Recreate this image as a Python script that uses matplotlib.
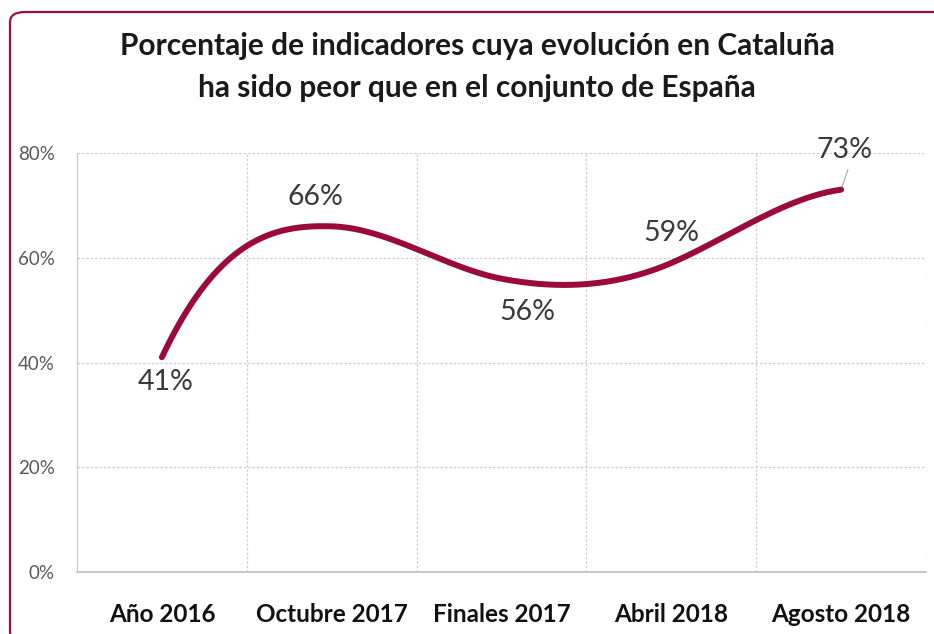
import numpy as np
import matplotlib
matplotlib.use('Agg')
import matplotlib.pyplot as plt
from matplotlib.patches import FancyBboxPatch

plt.rcParams['font.family'] = ['Lato', 'DejaVu Sans']

categories = ['Año 2016', 'Octubre 2017', 'Finales 2017', 'Abril 2018', 'Agosto 2018']
values = [41, 66, 56, 59, 73]
labels = ['41%', '66%', '56%', '59%', '73%']
title = 'Porcentaje de indicadores cuya evolución en Cataluña\nha sido peor que en el conjunto de España'
yticks = [0, 20, 40, 60, 80]

# slope of the smoothed line at each point (% per category)
slopes = [69, -1, -6.2, 14, 4.4]

line_color = '#9A0A3C'
border_color = '#A0103F'


def hermite(xs, ys, ms, n=80):
    px, py = [], []
    for i in range(len(xs) - 1):
        s = np.linspace(0, 1, n)
        if i > 0:
            s = s[1:]
        h = xs[i + 1] - xs[i]
        h00 = 2 * s**3 - 3 * s**2 + 1
        h10 = s**3 - 2 * s**2 + s
        h01 = -2 * s**3 + 3 * s**2
        h11 = s**3 - s**2
        px.append(xs[i] + s * h)
        py.append(h00 * ys[i] + h10 * h * ms[i] + h01 * ys[i + 1] + h11 * h * ms[i + 1])
    return np.concatenate(px), np.concatenate(py)


fig = plt.figure(figsize=(9.34, 6.34), dpi=100)
W, H = 934.0, 634.0

# rounded border, partly cut by the image edge
border = FancyBboxPatch((10 / W, -8 / H), 1.1, 1 - 4 / H,
                        boxstyle='round,pad=0,rounding_size=0.016',
                        transform=fig.transFigure, fill=False,
                        edgecolor=border_color, linewidth=1.6)
fig.patches.append(border)

ax = fig.add_axes([77 / W, (H - 572) / H, (926 - 77) / W, (572 - 153) / H])

x = np.arange(len(categories))
sx, sy = hermite(x, values, slopes)
ax.plot(sx, sy, color=line_color, linewidth=4.3, solid_capstyle='round', zorder=3)

ax.set_xlim(-0.5, len(categories) - 0.5)
ax.set_ylim(0, 80)
ax.set_yticks(yticks)
ax.set_yticklabels(['%d%%' % v for v in yticks], color='#595959', fontsize=13.5)
ax.set_xticks(x)
ax.set_xticklabels(categories, fontsize=17.5, fontweight='bold', color='#111111')
ax.tick_params(axis='both', length=0)
ax.tick_params(axis='x', pad=22)
ax.tick_params(axis='y', pad=16)

# grid: horizontal at ticks, vertical between categories
for v in yticks[1:]:
    ax.axhline(v, color='#CFCFCF', linewidth=0.9, linestyle=(0, (2, 1.5)), zorder=1)
for b in np.arange(0.5, len(categories), 1.0):
    ax.axvline(b, color='#CFCFCF', linewidth=0.9, linestyle=(0, (2, 1.5)), zorder=1)

for s in ['top', 'right']:
    ax.spines[s].set_visible(False)
ax.spines['left'].set_color('#C8C8C8')
ax.spines['bottom'].set_color('#BFBFBF')
ax.spines['bottom'].set_linewidth(1.2)

# data labels (placed as in the original)
offsets = [(0.02, -4.8), (-0.094, 5.6), (0.153, -6.4), (0.0, 5.7), (0.02, 7.6)]
for xi, v, lab, (dx, dy) in zip(x, values, labels, offsets):
    ax.text(xi + dx, v + dy, lab, ha='center', va='center', fontsize=20.5,
            color='#3a3a3a', zorder=4)
# leader line for last label
ax.plot([x[-1] + 0.005, x[-1] + 0.04], [values[-1] + 0.5, values[-1] + 3.8],
        color='#A6A6A6', linewidth=0.8)

fig.text(477 / W, 1 - 67 / H, title, ha='center', va='center', fontsize=21.5,
         fontweight='bold', color='#1a1a1a', linespacing=1.6)

fig.savefig('out.png', dpi=100, facecolor='white')
